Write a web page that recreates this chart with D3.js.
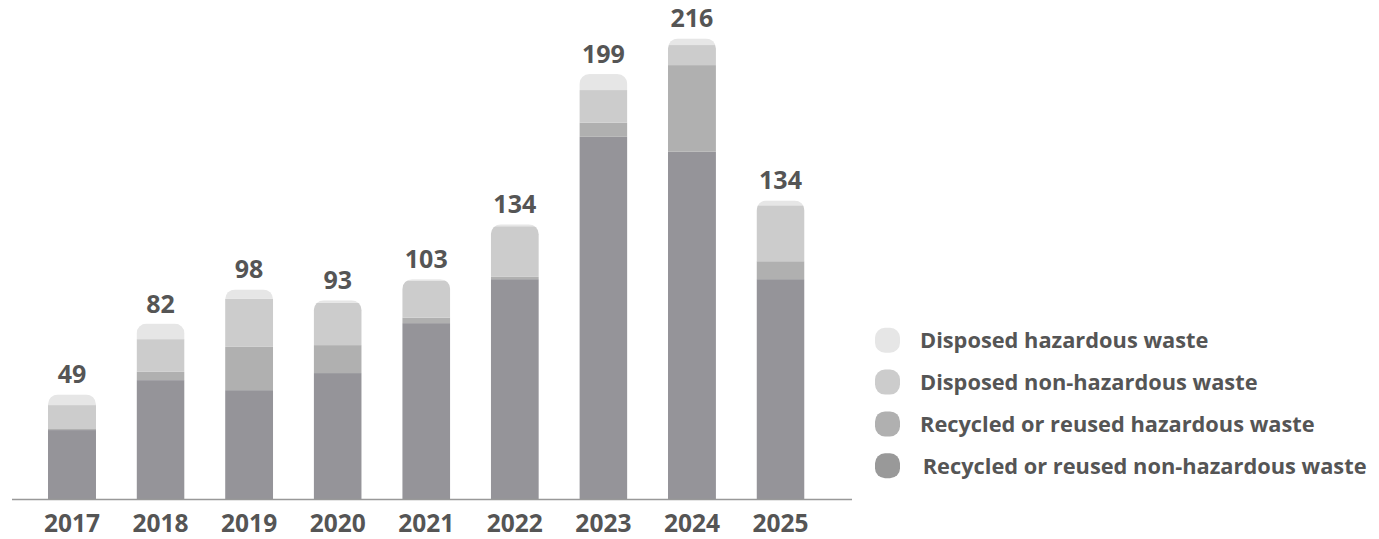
<!DOCTYPE html>
<html>
<head>
<meta charset="utf-8">
<script src="https://cdn.jsdelivr.net/npm/d3@7"></script>
<style>
  html, body { margin: 0; padding: 0; background: #fff; }
  svg { display: block; font-family: "Open Sans", sans-serif; }
</style>
</head>
<body>
<svg id="chart" width="1379" height="539"></svg>
<script>
// ---- data ----
const years = ["2017", "2018", "2019", "2020", "2021", "2022", "2023", "2024", "2025"];
const recycledNonHazardous = [32.3, 55.7, 51.0, 59.0, 82.4, 103.0, 169.7, 162.7, 103.0];
const recycledHazardous    = [0.8, 3.9, 20.3, 13.1, 2.6, 1.1, 6.6, 40.6, 8.4];
const disposedNonHazardous = [10.9, 15.3, 22.5, 19.8, 17.4, 23.7, 15.3, 9.4, 26.2];
const disposedHazardous    = [5.0, 7.3, 4.4, 1.2, 0.6, 0.9, 7.5, 3.1, 2.3];
const totalLabels = ["49", "82", "98", "93", "103", "134", "199", "216", "134"];

const seriesKeys = ["rnh", "rh", "dnh", "dh"];
const seriesNames = {
  dh: "Disposed hazardous waste",
  dnh: "Disposed non-hazardous waste",
  rh: "Recycled or reused hazardous waste",
  rnh: "Recycled or reused non-hazardous waste"
};
const colors = { rnh: "#959499", rh: "#b0b0b0", dnh: "#cccccc", dh: "#e6e6e6" };
const legendColors = { dh: "#e6e6e6", dnh: "#cccccc", rh: "#b0b0b0", rnh: "#999999" };

const table = years.map((y, i) => ({
  year: y,
  rnh: recycledNonHazardous[i],
  rh: recycledHazardous[i],
  dnh: disposedNonHazardous[i],
  dh: disposedHazardous[i],
  label: totalLabels[i]
}));

// ---- layout ----
const svg = d3.select("#chart");
const baseY = 499;
const x = d3.scaleBand().domain(years).range([27.7, 824.8]).paddingInner(0.458).paddingOuter(0.229);
const y = d3.scaleLinear().domain([0, 216]).range([baseY, 38]);

const stacked = d3.stack().keys(seriesKeys)(table);
const totals = table.map(d => seriesKeys.reduce((s, k) => s + d[k], 0));

const r = 10;
const defs = svg.append("defs");
table.forEach((d, i) => {
  const x0 = x(d.year), w = x.bandwidth(), top = y(totals[i]);
  const p = d3.path();
  p.moveTo(x0, baseY);
  p.lineTo(x0, top + r);
  p.arcTo(x0, top, x0 + r, top, r);
  p.lineTo(x0 + w - r, top);
  p.arcTo(x0 + w, top, x0 + w, top + r, r);
  p.lineTo(x0 + w, baseY);
  p.closePath();
  defs.append("clipPath").attr("id", "clip" + i).append("path").attr("d", p.toString());
});

const barsG = svg.append("g");
table.forEach((d, i) => {
  const g = barsG.append("g").attr("clip-path", `url(#clip${i})`);
  stacked.forEach(s => {
    const seg = s[i];
    g.append("rect")
      .attr("x", x(d.year))
      .attr("width", x.bandwidth())
      .attr("y", y(seg[1]))
      .attr("height", Math.max(0, y(seg[0]) - y(seg[1])))
      .attr("fill", colors[s.key]);
  });
});

// value labels
svg.append("g").selectAll("text").data(table).join("text")
  .attr("x", d => x(d.year) + x.bandwidth() / 2)
  .attr("y", (d, i) => y(totals[i]) - 11)
  .attr("text-anchor", "middle")
  .attr("font-size", 25)
  .attr("font-weight", 700)
  .attr("fill", "#555555")
  .text(d => d.label);

// baseline
svg.append("line")
  .attr("x1", 12).attr("x2", 852)
  .attr("y1", baseY + 0.5).attr("y2", baseY + 0.5)
  .attr("stroke", "#999999").attr("stroke-width", 1.5);

// x axis labels
const xAxis = svg.append("g")
  .attr("transform", `translate(0,${baseY})`)
  .call(d3.axisBottom(x).tickSize(0).tickPadding(16));
xAxis.select(".domain").remove();
xAxis.selectAll("text")
  .attr("font-size", 24.5)
  .attr("font-weight", 700)
  .attr("font-family", "Open Sans, sans-serif")
  .attr("fill", "#555555");

// legend
const legendOrder = ["dh", "dnh", "rh", "rnh"];
const legend = svg.append("g");
legendOrder.forEach((k, i) => {
  const cy = 340.3 + i * 41.8;
  legend.append("rect")
    .attr("x", 875).attr("y", cy - 12.5)
    .attr("width", 25).attr("height", 25)
    .attr("rx", 10).attr("ry", 10)
    .attr("fill", legendColors[k]);
  legend.append("text")
    .attr("x", k === "rnh" ? 922.7 : 920)
    .attr("y", cy + 8)
    .attr("font-size", 21.8)
    .attr("font-weight", 700)
    .attr("fill", "#555555")
    .text(seriesNames[k]);
});
</script>
</body>
</html>
